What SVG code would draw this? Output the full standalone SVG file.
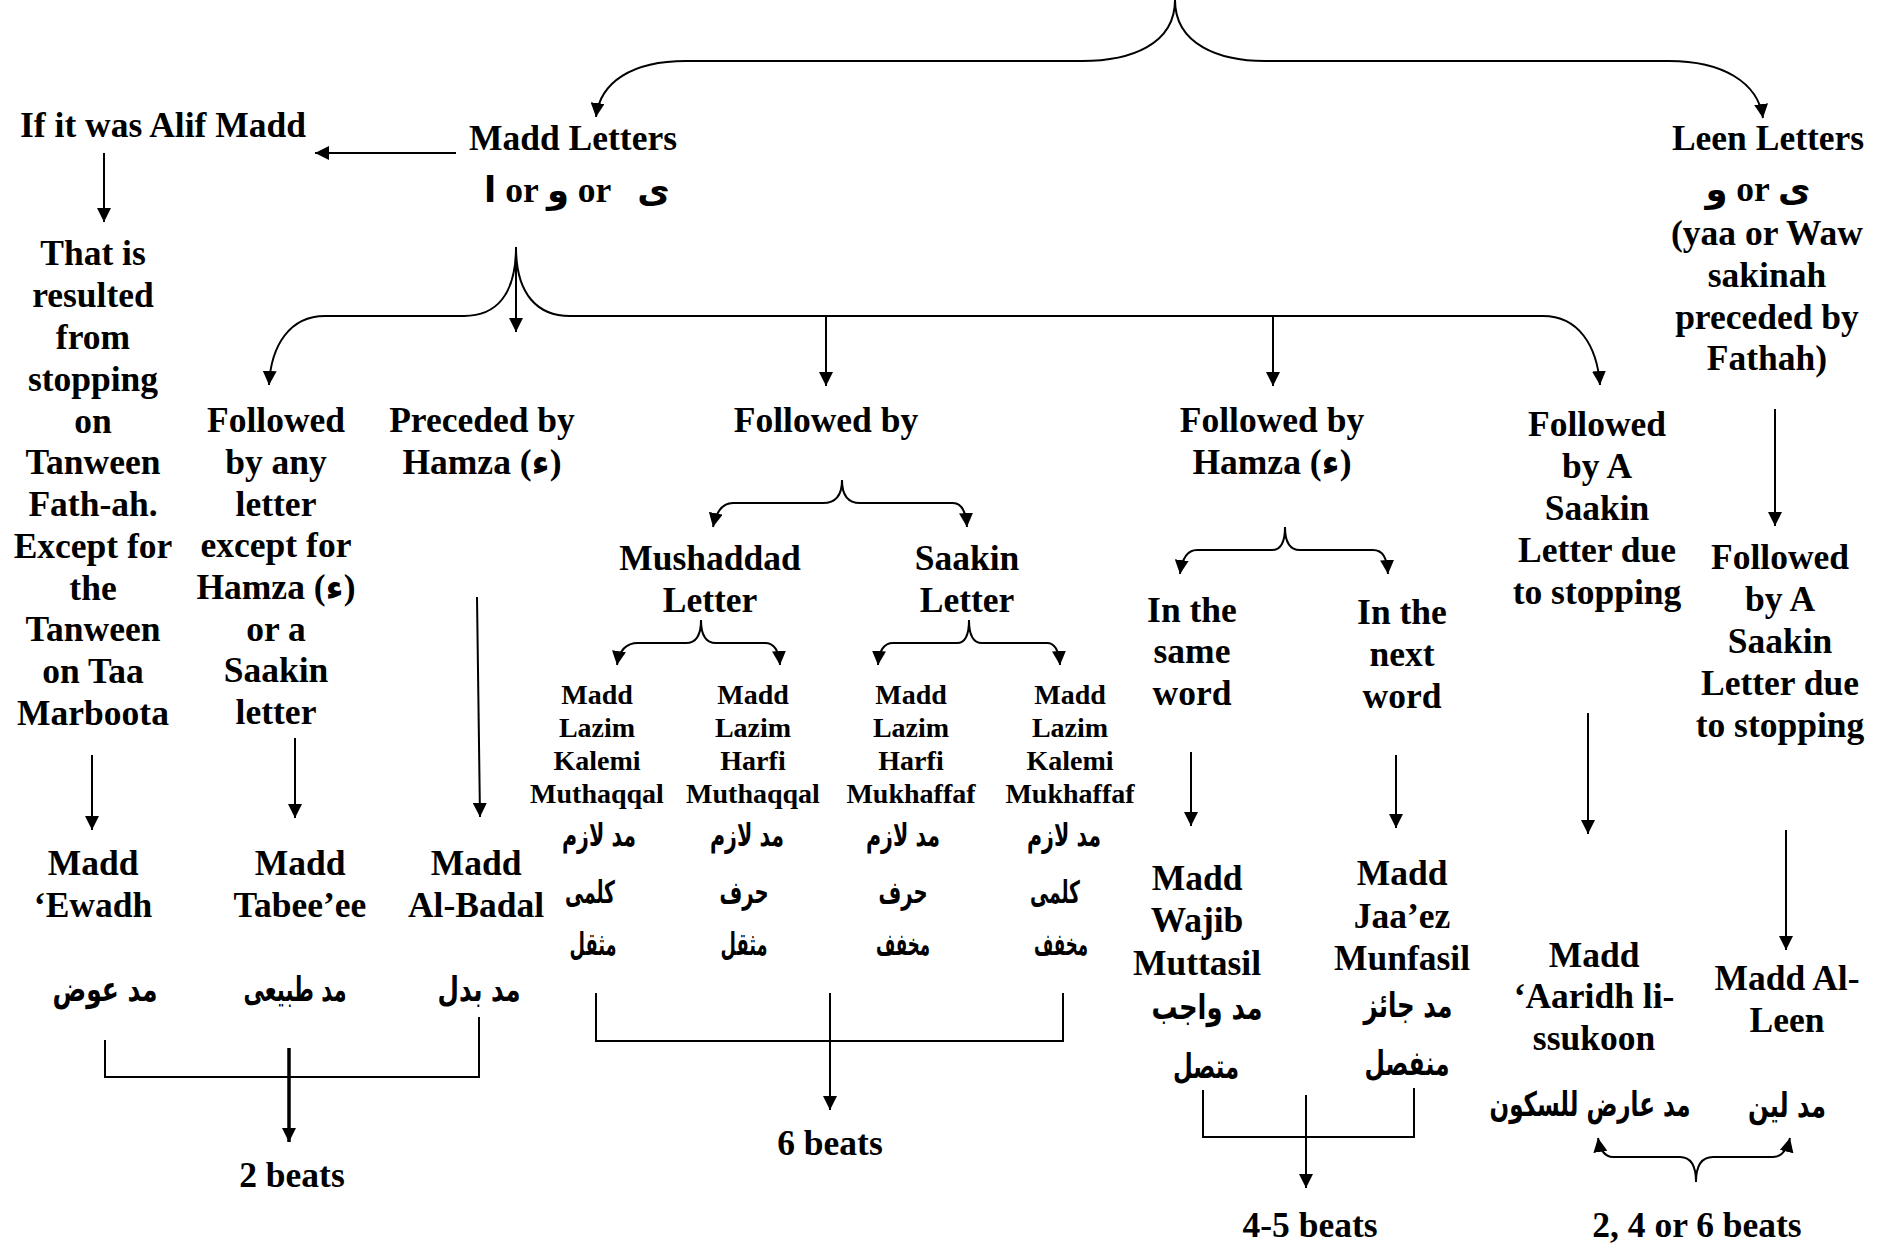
<svg xmlns="http://www.w3.org/2000/svg" width="1888" height="1246" viewBox="0 0 1888 1246">
<defs>
<marker id="ah" viewBox="0 0 14 14" markerWidth="14" markerHeight="14" refX="14" refY="7" orient="auto" markerUnits="userSpaceOnUse">
<path d="M0,0 L14,7 L0,14 z" fill="#000"/>
</marker>
<style>
text{font-family:"Liberation Serif","Times New Roman","DejaVu Sans",serif;font-weight:bold;fill:#000;text-anchor:middle}
.L{font-size:35.5px}
.S{font-size:28px}
.A{font-family:"DejaVu Sans","Liberation Serif",sans-serif;font-size:31px}
.AB{font-family:"DejaVu Sans","Liberation Serif",sans-serif;font-size:34px}
.c path{fill:none;stroke:#000;stroke-width:2}
.c .a{marker-end:url(#ah)}
.c .t{stroke-width:3.5}
</style>
</defs>
<rect width="1888" height="1246" fill="#fff"/>

<g id="connectors" class="c">
<path class="a" d="M1175,0 C1175,45 1130,61 1082,61 H686 C632,61 600,82 596,117"/>
<path class="a" d="M1175,0 C1175,45 1220,61 1265,61 H1669 C1722,61 1758,82 1763,118"/>
<path class="a" d="M456,153 H315"/>
<path class="a" d="M104,153 V222"/>
<path class="a" d="M516,247 C516,295 496,316 464,316 H325 C290,316 271,345 269,385"/>
<path class="a" d="M516,247 C516,295 538,316 570,316 H1543 C1578,316 1597,345 1600,385"/>
<path class="a" d="M516,247 V332"/>
<path class="a" d="M826,316 V386"/>
<path class="a" d="M1273,316 V386"/>
<path class="a" d="M842,480 C842,496 835,503 823,503 H733 C722,503 716,512 713,527"/>
<path class="a" d="M842,480 C842,496 849,503 860,503 H953 C962,503 966,512 967,527"/>
<path class="a" d="M701,620 C701,636 696,643 686,643 H638 C626,643 619,651 617,665"/>
<path class="a" d="M701,620 C701,636 706,643 716,643 H765 C774,643 779,651 780,665"/>
<path class="a" d="M969,620 C969,636 964,643 957,643 H893 C884,643 879,651 878,665"/>
<path class="a" d="M969,620 C969,636 974,643 982,643 H1047 C1055,643 1059,651 1060,665"/>
<path class="a" d="M1285,527 C1285,543 1280,550 1272,550 H1197 C1187,550 1182,558 1180,574"/>
<path class="a" d="M1285,527 C1285,543 1290,550 1300,550 H1373 C1383,550 1387,558 1388,574"/>
<path class="a" d="M92,755 V830"/>
<path class="a" d="M295,738 V818"/>
<path class="a" d="M477,597 L480,817"/>
<path class="a" d="M1775,409 V526"/>
<path class="a" d="M1588,713 V834"/>
<path class="a" d="M1191,752 V826"/>
<path class="a" d="M1396,755 V828"/>
<path class="a" d="M1786,830 V950"/>
<path d="M105,1040 V1077 H479 V1017"/>
<path class="a t" d="M289,1048 V1142"/>
<path d="M596,993 V1041 H1063 V993"/>
<path class="a" d="M830,993 V1110"/>
<path d="M1203,1090 V1137 H1414 V1088"/>
<path class="a" d="M1306,1095 V1188"/>
<path class="a" d="M1696,1182 C1696,1166 1691,1157 1680,1157 H1613 C1604,1157 1600,1150 1598,1138"/>
<path class="a" d="M1696,1182 C1696,1166 1701,1157 1713,1157 H1773 C1782,1157 1787,1150 1790,1138"/>
</g>

<g id="alif-madd"><text class="L" x="163" y="137">If it was Alif Madd</text></g>
<g id="madd-letters"><text class="L" x="573" y="150">Madd Letters</text>
<text class="L" x="577" y="202" style="white-space:pre">ا or و or   ى</text></g>
<g id="leen-letters"><text class="L" x="1768" y="150">Leen Letters</text>
<text class="L" x="1758" y="201">و or ى</text>
<text class="L" x="1767" y="245">(yaa or Waw</text>
<text class="L" x="1767" y="287">sakinah</text>
<text class="L" x="1767" y="329">preceded by</text>
<text class="L" x="1767" y="370">Fathah)</text></g>

<g id="tanween"><text class="L" x="93" y="265">That is</text>
<text class="L" x="93" y="307">resulted</text>
<text class="L" x="93" y="349">from</text>
<text class="L" x="93" y="391">stopping</text>
<text class="L" x="93" y="433">on</text>
<text class="L" x="93" y="474">Tanween</text>
<text class="L" x="93" y="516">Fath-ah.</text>
<text class="L" x="93" y="558">Except for</text>
<text class="L" x="93" y="600">the</text>
<text class="L" x="93" y="641">Tanween</text>
<text class="L" x="93" y="683">on Taa</text>
<text class="L" x="93" y="725">Marboota</text></g>

<g id="followed-any"><text class="L" x="276" y="432">Followed</text>
<text class="L" x="276" y="474">by any</text>
<text class="L" x="276" y="516">letter</text>
<text class="L" x="276" y="557">except for</text>
<text class="L" x="276" y="599">Hamza (ء)</text>
<text class="L" x="276" y="641">or a</text>
<text class="L" x="276" y="682">Saakin</text>
<text class="L" x="276" y="724">letter</text></g>

<g id="preceded-hamza"><text class="L" x="482" y="432">Preceded by</text>
<text class="L" x="482" y="474">Hamza (ء)</text></g>

<g id="followed-by"><text class="L" x="826" y="432">Followed by</text></g>
<g id="followed-hamza"><text class="L" x="1272" y="432">Followed by</text>
<text class="L" x="1272" y="474">Hamza (ء)</text></g>
<g id="followed-saakin-1"><text class="L" x="1597" y="436">Followed</text>
<text class="L" x="1597" y="478">by A</text>
<text class="L" x="1597" y="520">Saakin</text>
<text class="L" x="1597" y="562">Letter due</text>
<text class="L" x="1597" y="604">to stopping</text></g>
<g id="followed-saakin-2"><text class="L" x="1780" y="569">Followed</text>
<text class="L" x="1780" y="611">by A</text>
<text class="L" x="1780" y="653">Saakin</text>
<text class="L" x="1780" y="695">Letter due</text>
<text class="L" x="1780" y="737">to stopping</text></g>

<g id="mushaddad"><text class="L" x="710" y="570">Mushaddad</text>
<text class="L" x="710" y="612">Letter</text></g>
<g id="saakin"><text class="L" x="967" y="570">Saakin</text>
<text class="L" x="967" y="612">Letter</text></g>
<g id="same-word"><text class="L" x="1192" y="622">In the</text>
<text class="L" x="1192" y="663">same</text>
<text class="L" x="1192" y="705">word</text></g>
<g id="next-word"><text class="L" x="1402" y="624">In the</text>
<text class="L" x="1402" y="666">next</text>
<text class="L" x="1402" y="708">word</text></g>

<g id="lazim-kalemi-muthaqqal"><text class="S" x="597" y="704">Madd</text>
<text class="S" x="597" y="737">Lazim</text>
<text class="S" x="597" y="770">Kalemi</text>
<text class="S" x="597" y="803">Muthaqqal</text>
<text class="A" x="599" y="846" textLength="74" lengthAdjust="spacingAndGlyphs">مد لازم</text>
<text class="A" x="590" y="903" textLength="50" lengthAdjust="spacingAndGlyphs">كلمى</text>
<text class="A" x="593" y="955" textLength="47" lengthAdjust="spacingAndGlyphs">مثقل</text></g>
<g id="lazim-harfi-muthaqqal"><text class="S" x="753" y="704">Madd</text>
<text class="S" x="753" y="737">Lazim</text>
<text class="S" x="753" y="770">Harfi</text>
<text class="S" x="753" y="803">Muthaqqal</text>
<text class="A" x="747" y="846" textLength="74" lengthAdjust="spacingAndGlyphs">مد لازم</text>
<text class="A" x="744" y="903" textLength="49" lengthAdjust="spacingAndGlyphs">حرف</text>
<text class="A" x="744" y="955" textLength="47" lengthAdjust="spacingAndGlyphs">مثقل</text></g>
<g id="lazim-harfi-mukhaffaf"><text class="S" x="911" y="704">Madd</text>
<text class="S" x="911" y="737">Lazim</text>
<text class="S" x="911" y="770">Harfi</text>
<text class="S" x="911" y="803">Mukhaffaf</text>
<text class="A" x="903" y="846" textLength="74" lengthAdjust="spacingAndGlyphs">مد لازم</text>
<text class="A" x="903" y="903" textLength="49" lengthAdjust="spacingAndGlyphs">حرف</text>
<text class="A" x="903" y="955" textLength="54" lengthAdjust="spacingAndGlyphs">مخفف</text></g>
<g id="lazim-kalemi-mukhaffaf"><text class="S" x="1070" y="704">Madd</text>
<text class="S" x="1070" y="737">Lazim</text>
<text class="S" x="1070" y="770">Kalemi</text>
<text class="S" x="1070" y="803">Mukhaffaf</text>
<text class="A" x="1064" y="846" textLength="74" lengthAdjust="spacingAndGlyphs">مد لازم</text>
<text class="A" x="1055" y="903" textLength="50" lengthAdjust="spacingAndGlyphs">كلمى</text>
<text class="A" x="1061" y="955" textLength="54" lengthAdjust="spacingAndGlyphs">مخفف</text></g>

<g id="ewadh"><text class="L" x="93" y="875">Madd</text>
<text class="L" x="93" y="917">‘Ewadh</text>
<text class="AB" x="105" y="1001" textLength="105" lengthAdjust="spacingAndGlyphs">مد عوض</text></g>
<g id="tabeeee"><text class="L" x="300" y="875">Madd</text>
<text class="L" x="300" y="917">Tabee’ee</text>
<text class="AB" x="295" y="1001" textLength="103" lengthAdjust="spacingAndGlyphs">مد طبيعى</text></g>
<g id="badal"><text class="L" x="476" y="875">Madd</text>
<text class="L" x="476" y="917">Al-Badal</text>
<text class="AB" x="479" y="1001" textLength="83" lengthAdjust="spacingAndGlyphs">مد بدل</text></g>

<g id="wajib"><text class="L" x="1197" y="890">Madd</text>
<text class="L" x="1197" y="932">Wajib</text>
<text class="L" x="1197" y="975">Muttasil</text>
<text class="AB" x="1207" y="1019" textLength="111" lengthAdjust="spacingAndGlyphs">مد واجب</text>
<text class="AB" x="1206" y="1078" textLength="66" lengthAdjust="spacingAndGlyphs">متصل</text></g>
<g id="jaaez"><text class="L" x="1402" y="885">Madd</text>
<text class="L" x="1402" y="928">Jaa’ez</text>
<text class="L" x="1402" y="970">Munfasil</text>
<text class="AB" x="1408" y="1017" textLength="89" lengthAdjust="spacingAndGlyphs">مد جائز</text>
<text class="AB" x="1407" y="1075" textLength="85" lengthAdjust="spacingAndGlyphs">منفصل</text></g>
<g id="aaridh"><text class="L" x="1594" y="967">Madd</text>
<text class="L" x="1594" y="1008">‘Aaridh li-</text>
<text class="L" x="1594" y="1050">ssukoon</text>
<text class="AB" x="1590" y="1116" textLength="201" lengthAdjust="spacingAndGlyphs">مد عارض للسكون</text></g>
<g id="leen"><text class="L" x="1787" y="990">Madd Al-</text>
<text class="L" x="1787" y="1032">Leen</text>
<text class="AB" x="1787" y="1117" textLength="78" lengthAdjust="spacingAndGlyphs">مد لين</text></g>

<g id="beats-2"><text class="L" x="292" y="1187">2 beats</text></g>
<g id="beats-6"><text class="L" x="830" y="1155">6 beats</text></g>
<g id="beats-4-5"><text class="L" x="1310" y="1237">4-5 beats</text></g>
<g id="beats-246"><text class="L" x="1697" y="1237">2, 4 or 6 beats</text></g>
</svg>
